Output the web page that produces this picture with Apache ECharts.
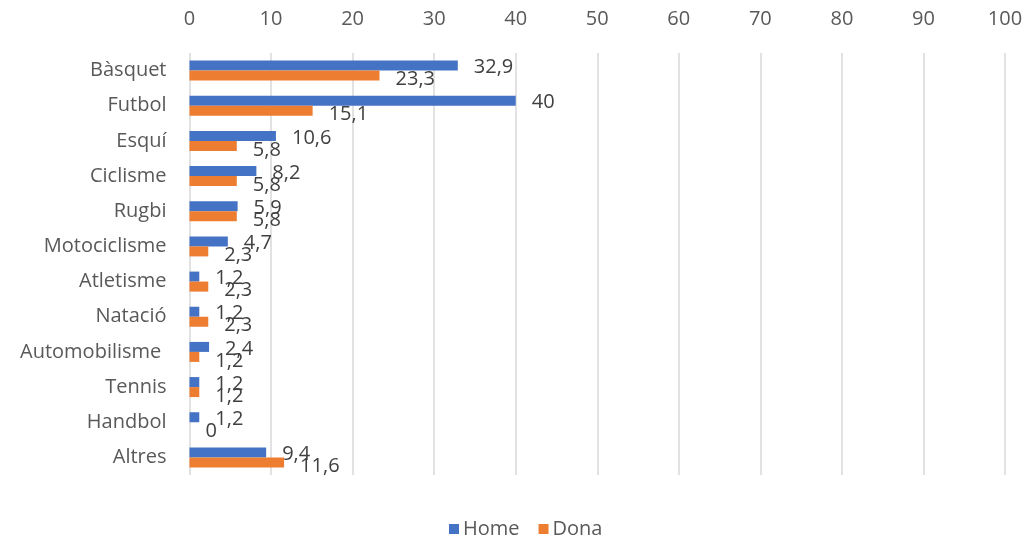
<!DOCTYPE html>
<html>
<head>
<meta charset="utf-8">
<script src="https://cdn.jsdelivr.net/npm/echarts@6/dist/echarts.min.js"></script>
<style>
  html, body { margin: 0; padding: 0; background: #ffffff; }
  #chart { width: 1027px; height: 538px; }
</style>
</head>
<body>
<div id="chart"></div>
<script>
// Sports categories, top to bottom
const categories = ['Bàsquet', 'Futbol', 'Esquí', 'Ciclisme', 'Rugbi', 'Motociclisme',
  'Atletisme', 'Natació', 'Automobilisme ', 'Tennis', 'Handbol', 'Altres'];
// Percentage values per group
const homeValues = [32.9, 40, 10.6, 8.2, 5.9, 4.7, 1.2, 1.2, 2.4, 1.2, 1.2, 9.4];
const donaValues = [23.3, 15.1, 5.8, 5.8, 5.8, 2.3, 2.3, 2.3, 1.2, 1.2, 0, 11.6];
const seriesNames = ['Home', 'Dona'];
const axisTicks = [0, 10, 20, 30, 40, 50, 60, 70, 80, 90, 100];

const FONT = '"Open Sans", "Noto Sans", sans-serif';
const fmt = p => String(p.value).replace('.', ',');

const chart = echarts.init(document.getElementById('chart'), null, { renderer: 'canvas' });

chart.setOption({
  backgroundColor: '#ffffff',
  animation: false,
  textStyle: { fontFamily: FONT },
  grid: { left: 189.5, right: 22, top: 53, bottom: 63, containLabel: false },
  legend: {
    data: seriesNames,
    left: 444,
    top: 514,
    itemWidth: 10,
    itemHeight: 10,
    itemGap: 19,
    icon: 'rect',
    textStyle: { color: '#595959', fontSize: 20, fontFamily: FONT, padding: [0, 0, 0, -1] }
  },
  xAxis: {
    type: 'value',
    position: 'top',
    min: axisTicks[0],
    max: axisTicks[axisTicks.length - 1],
    interval: axisTicks[1] - axisTicks[0],
    axisLine: { show: false },
    axisTick: { show: false },
    splitLine: { show: true, lineStyle: { color: '#d9d9d9', width: 1.5 } },
    axisLabel: { color: '#595959', fontSize: 20, fontFamily: FONT, margin: 24 }
  },
  yAxis: {
    type: 'category',
    data: categories,
    inverse: true,
    axisLine: { show: false },
    axisTick: { show: false },
    axisLabel: {
      color: '#595959', fontSize: 20, fontFamily: FONT, margin: 23,
      padding: [4, 0, 0, 0]
    }
  },
  series: [
    {
      name: seriesNames[0],
      type: 'bar',
      data: homeValues,
      barWidth: 10,
      barGap: '0%',
      itemStyle: { color: '#4472C4' },
      label: {
        show: true, position: 'right', distance: 16, offset: [0, 2],
        formatter: fmt, color: '#404040', fontSize: 20, fontFamily: FONT
      }
    },
    {
      name: seriesNames[1],
      type: 'bar',
      data: donaValues,
      barWidth: 10,
      barGap: '0%',
      itemStyle: { color: '#ED7D31' },
      label: {
        show: true, position: 'right', distance: 16, offset: [0, 4],
        formatter: fmt, color: '#404040', fontSize: 20, fontFamily: FONT
      }
    }
  ]
});
</script>
</body>
</html>
